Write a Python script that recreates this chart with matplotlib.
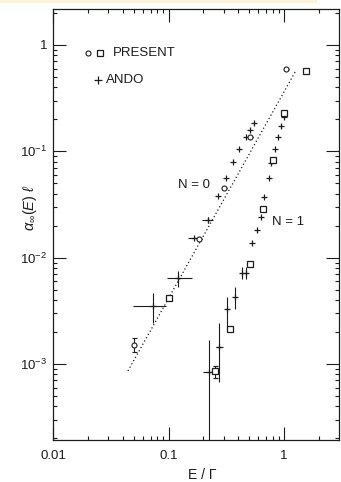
import numpy as np
import matplotlib
matplotlib.use("Agg")
import matplotlib.pyplot as plt
from matplotlib.ticker import LogLocator, FixedLocator, FixedFormatter, NullFormatter
from matplotlib.patches import Rectangle

plt.rcParams['font.family'] = ['Liberation Sans', 'DejaVu Sans']
plt.rcParams['mathtext.fontset'] = 'custom'
plt.rcParams['mathtext.rm'] = 'Liberation Sans'
plt.rcParams['mathtext.it'] = 'Liberation Sans:italic'
plt.rcParams['mathtext.bf'] = 'Liberation Sans:bold'

INK = '#1c1c1c'

# ---------------- data ----------------
# Ando data (+ markers) with error-bar bounds
ando_x = [0.553, 0.508, 0.466, 0.410, 0.360, 0.313, 0.267, 0.218, 0.166, 0.120, 0.0727,
          1.006, 0.936, 0.882, 0.836, 0.772, 0.737, 0.675, 0.628, 0.581, 0.529,
          0.430, 0.469, 0.377, 0.323, 0.275, 0.2255]
ando_y = [0.186, 0.159, 0.1355, 0.105, 0.0798, 0.0565, 0.0383, 0.0226, 0.0152, 0.00647, 0.00353,
          0.209, 0.173, 0.137, 0.1045, 0.077, 0.0557, 0.0369, 0.0243, 0.0182, 0.0138,
          0.00712, 0.00712, 0.00429, 0.00328, 0.00145, 0.000845]
ando_xlo = [0.553, 0.508, 0.466, 0.410, 0.360, 0.313, 0.267, 0.196, 0.148, 0.0977, 0.0493,
            1.006, 0.936, 0.882, 0.836, 0.772, 0.737, 0.675, 0.628, 0.581, 0.529,
            0.430, 0.469, 0.377, 0.323, 0.256, 0.200]
ando_xhi = [0.553, 0.508, 0.466, 0.410, 0.360, 0.313, 0.267, 0.241, 0.185, 0.160, 0.0951,
            1.006, 0.936, 0.882, 0.836, 0.772, 0.737, 0.675, 0.628, 0.581, 0.529,
            0.430, 0.469, 0.377, 0.323, 0.298, 0.248]
ando_ylo = [0.186, 0.159, 0.1355, 0.105, 0.0798, 0.0565, 0.0383, 0.0210, 0.0152, 0.00526, 0.00242,
            0.209, 0.173, 0.137, 0.1045, 0.077, 0.0557, 0.0369, 0.0243, 0.0182, 0.0138,
            0.00625, 0.00625, 0.00326, 0.00222, 0.00068, 0.0001]
ando_yhi = [0.186, 0.159, 0.1355, 0.105, 0.0798, 0.0565, 0.0383, 0.0243, 0.0152, 0.00753, 0.00466,
            0.209, 0.173, 0.137, 0.1045, 0.077, 0.0557, 0.0369, 0.0243, 0.0182, 0.0138,
            0.0081, 0.0081, 0.00532, 0.00423, 0.00241, 0.00168]

# Present data: circles
circ_x = [1.034, 0.505, 0.301, 0.185, 0.050]
circ_y = [0.59, 0.137, 0.0455, 0.015, 0.00151]
circ_ylo = [0.59, 0.137, 0.0455, 0.015, 0.00129]
circ_yhi = [0.59, 0.137, 0.0455, 0.015, 0.00177]

# Present data: squares
sq_x = [1.54, 1.006, 0.808, 0.654, 0.508, 0.3407, 0.251, 0.101]
sq_y = [0.569, 0.231, 0.0828, 0.0287, 0.00865, 0.00213, 0.000857, 0.0042]
sq_ylo = [0.569, 0.231, 0.0828, 0.0287, 0.00865, 0.00213, 0.00074, 0.0042]
sq_yhi = [0.569, 0.231, 0.0828, 0.0287, 0.00865, 0.00213, 0.00096, 0.0042]

# dotted N=0 line
fit_x = [0.0445, 1.25]
fit_y = [0.00086, 0.56]

xticks = [0.01, 0.1, 1]
xticklabels = ['0.01', '0.1', '1']
yticks = [1e-3, 1e-2, 1e-1, 1]
yticklabels = [r'$10^{-3}$', r'$10^{-2}$', r'$10^{-1}$', '1']

# ---------------- figure ----------------
fig = plt.figure(figsize=(3.41, 4.82), dpi=100)
ax = fig.add_axes([53/341, 1-440/482, 285.5/341, 431/482])
ax.set_xscale('log')
ax.set_yscale('log')
ax.set_xlim(0.01, 2.96)
ax.set_ylim(1.93e-4, 2.18)

fig.patches.append(Rectangle((0, 1-3/482), 317/341, 3/482, transform=fig.transFigure,
                             facecolor='#fbf3dc', edgecolor='none'))

ax.plot(fit_x, fit_y, linestyle=(0, (1, 2)), color=INK, lw=0.9)

ax_ = np.array
ax.errorbar(ando_x, ando_y,
            xerr=[ax_(ando_x) - ax_(ando_xlo), ax_(ando_xhi) - ax_(ando_x)],
            yerr=[ax_(ando_y) - ax_(ando_ylo), ax_(ando_yhi) - ax_(ando_y)],
            fmt='+', ms=5, mew=0.9, color=INK, ecolor=INK, elinewidth=0.8, capsize=0)

ax.errorbar(circ_x, circ_y,
            yerr=[ax_(circ_y) - ax_(circ_ylo), ax_(circ_yhi) - ax_(circ_y)],
            fmt='o', ms=3.6, mfc='white', mec=INK, mew=0.8, ecolor=INK,
            elinewidth=0.8, capsize=1.8, capthick=0.8)

ax.errorbar(sq_x, sq_y,
            yerr=[ax_(sq_y) - ax_(sq_ylo), ax_(sq_yhi) - ax_(sq_y)],
            fmt='s', ms=5, mfc='white', mec=INK, mew=0.9, ecolor=INK,
            elinewidth=0.8, capsize=1.8, capthick=0.8)

# legend (manual)
ax.plot([0.1226], [0.898], 'o', ms=3.6, mfc='white', mec=INK, mew=0.8, transform=ax.transAxes)
ax.plot([0.1646], [0.898], 's', ms=5, mfc='white', mec=INK, mew=0.9, transform=ax.transAxes)
ax.text(0.210, 0.898, 'PRESENT', transform=ax.transAxes, ha='left', va='center',
        fontsize=9.5, color=INK)
ax.plot([0.158], [0.835], '+', ms=5.5, mew=0.9, color=INK, transform=ax.transAxes)
ax.text(0.187, 0.835, 'ANDO', transform=ax.transAxes, ha='left', va='center',
        fontsize=9.5, color=INK)

ax.text(0.121, 0.048, 'N = 0', ha='left', va='center', fontsize=9.5, color=INK)
ax.text(0.787, 0.0216, 'N = 1', ha='left', va='center', fontsize=9.5, color=INK)

# ticks
ax.xaxis.set_major_locator(FixedLocator(xticks))
ax.xaxis.set_major_formatter(FixedFormatter(xticklabels))
ax.xaxis.set_minor_locator(LogLocator(base=10, subs=np.arange(2, 10)))
ax.xaxis.set_minor_formatter(NullFormatter())
ax.yaxis.set_major_locator(FixedLocator(yticks))
ax.yaxis.set_major_formatter(FixedFormatter(yticklabels))
ax.yaxis.set_minor_locator(LogLocator(base=10, subs=np.arange(2, 10)))
ax.yaxis.set_minor_formatter(NullFormatter())

ax.tick_params(which='both', direction='in', top=True, right=True, colors=INK,
               labelcolor=INK, width=0.8)
ax.tick_params(which='major', length=9.5, labelsize=9.5)
ax.tick_params(which='minor', length=3.2)
ax.tick_params(axis='x', which='major', pad=7)
ax.tick_params(axis='y', which='major', pad=4)
for s in ax.spines.values():
    s.set_linewidth(0.9)
    s.set_color(INK)

ax.set_xlabel('E / Γ', fontsize=10, color=INK)
ax.xaxis.set_label_coords(0.522, -0.064)
ax.set_ylabel(r'$\alpha_{\infty}(E)\ \ell$', fontsize=10.5, color=INK)
ax.yaxis.set_label_coords(-0.05, 0.54)

fig.savefig('out.png', dpi=100, facecolor='white')
